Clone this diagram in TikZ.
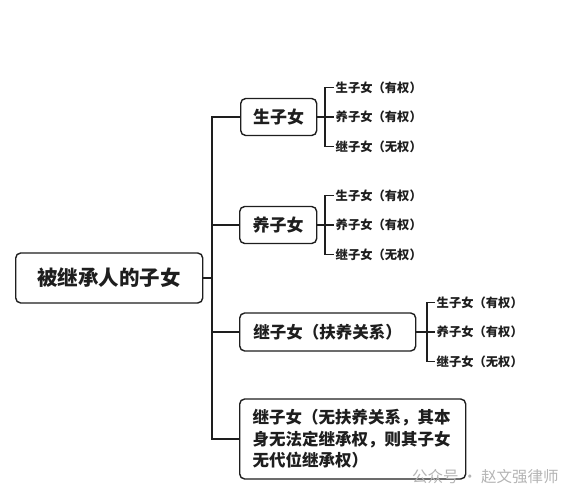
\documentclass[tikz,border=0pt]{standalone}
\usepackage{fontspec}
\newfontfamily\cjk{Noto Sans CJK SC}
\usepackage{xcolor}
\definecolor{tree-black}{HTML}{1E1E1E}
\definecolor{mark-gray}{HTML}{B4B4B4}
\usepackage{tikz}
\usetikzlibrary{calc}

\tikzset{
    box/.style={draw=tree-black, line width=1.4pt, rounded corners=5pt, fill=white,
        inner sep=0pt, anchor=west, align=center, text=tree-black, font=\cjk\bfseries},
    leaf/.style={anchor=west, inner xsep=1.5pt, inner ysep=0pt, text=tree-black,
        font=\cjk\bfseries\fontsize{12.3}{14}\selectfont},
    link/.style={draw=tree-black, line width=1.6pt}
}

\begin{document}
\begin{tikzpicture}[x=1pt, y=-1pt]

    % Canvas
    \useasboundingbox (0, 0) rectangle (571, 500);

    % Root
    \node[box, minimum width=187pt, minimum height=50pt, font=\cjk\bfseries\fontsize{20.5}{24}\selectfont]
        (root) at (15, 278) {被继承人的子女};

    % Boxes
    \node[box, minimum width=76pt, minimum height=37pt, font=\cjk\bfseries\fontsize{17}{20}\selectfont]
        (own) at (240, 117) {生子女};
    \node[box, minimum width=77pt, minimum height=37pt, font=\cjk\bfseries\fontsize{17}{20}\selectfont]
        (adopted) at (239, 225) {养子女};
    \node[box, minimum width=176pt, minimum height=38pt, font=\cjk\bfseries\fontsize{16.5}{20}\selectfont]
        (stepcare) at (239, 332) {继子女（扶养关系）};
    \node[box, minimum width=226pt, minimum height=80pt, text width=200pt, align=left,
        font=\cjk\bfseries\fontsize{16.5}{21.5}\selectfont]
        (stepnone) at (239, 439) {继子女（无扶养关系，其本\\身无法定继承权，则其子女\\无代位继承权）};

    % Trunk
    \coordinate (trunk) at (212, 278);
    \draw[link] (root.east) -- (trunk);
    \draw[link] (own.west) -| (trunk) |- (stepnone.west);
    \draw[link] (adopted.west) -- (trunk |- adopted.west);
    \draw[link] (stepcare.west) -- (trunk |- stepcare.west);

    % Leaves
    \foreach \parent/\bx/\lx/\tag in {own/325/334/a, adopted/325/334/b, stepcare/427/435/c} {
        \coordinate (fork-\tag) at (\bx, 0);
        \coordinate (col-\tag) at (\lx, 0);
        \node[leaf] (\tag1) at ($(\parent.east -| col-\tag)+(0,-29.5)$) {生子女（有权）};
        \node[leaf] (\tag2) at (\parent.east -| col-\tag) {养子女（有权）};
        \node[leaf] (\tag3) at ($(\parent.east -| col-\tag)+(0,29.5)$) {继子女（无权）};
        \draw[link, line width=1.3pt] (\tag1.west) -| (fork-\tag |- \parent.east) |- (\tag3.west);
        \draw[link, line width=1.3pt] (\parent.east) -- (\tag2.west);
    }

    % Watermark
    \node[anchor=west, inner sep=0pt, text=mark-gray, font=\cjk\fontsize{15.5}{18}\selectfont]
        (mark) at (412, 477) {公众号 · 赵文强律师};

\end{tikzpicture}
\end{document}
